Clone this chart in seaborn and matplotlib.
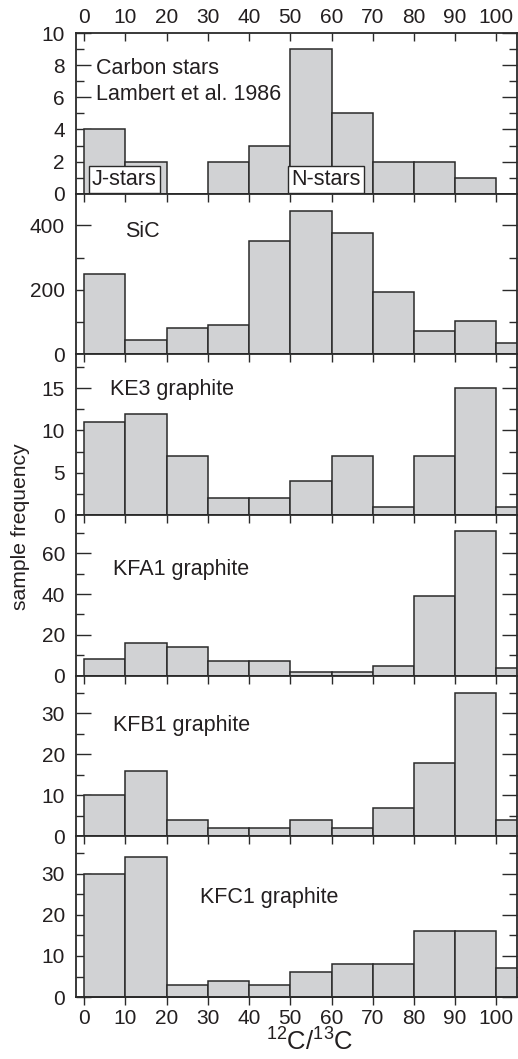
import numpy as np
import matplotlib
matplotlib.use("Agg")
import matplotlib.pyplot as plt
from matplotlib.ticker import MultipleLocator, FixedLocator
import seaborn as sns

# ---------------- data ----------------
bin_edges = [0, 10, 20, 30, 40, 50, 60, 70, 80, 90, 100, 110]
bin_centers = [5, 15, 25, 35, 45, 55, 65, 75, 85, 95, 105]

carbon_stars = [4, 2, 0, 2, 3, 9, 5, 2, 2, 1, 0]
sic = [250, 44, 82, 92, 350, 443, 375, 193, 72, 103, 35]
ke3 = [11, 12, 7, 2, 2, 4, 7, 1, 7, 15, 1]
kfa1 = [8, 16, 14, 7, 7, 2, 2, 5, 39, 71, 4]
kfb1 = [10, 16, 4, 2, 2, 4, 2, 7, 18, 35, 4]
kfc1 = [30, 34, 3, 4, 3, 6, 8, 8, 16, 16, 7]

panel_labels = ["Carbon stars\nLambert et al. 1986", "SiC", "KE3 graphite",
                "KFA1 graphite", "KFB1 graphite", "KFC1 graphite"]
x_ticks = [0, 10, 20, 30, 40, 50, 60, 70, 80, 90, 100]
y_major = [[0, 2, 4, 6, 8, 10], [0, 200, 400], [0, 5, 10, 15],
           [0, 20, 40, 60], [0, 10, 20, 30], [0, 10, 20, 30]]
y_minor = [[1, 3, 5, 7, 9], [100, 300], [2.5, 7.5, 12.5, 17.5],
           [10, 30, 50, 70], [5, 15, 25, 35], [5, 15, 25, 35]]
y_limits = [(0, 10), (0, 498), (0, 19), (0, 78.7), (0, 39.2), (0, 39.1)]

series = [carbon_stars, sic, ke3, kfa1, kfb1, kfc1]

# ---------------- style ----------------
sns.set_style("ticks")
plt.rcParams["font.family"] = ["Liberation Sans", "DejaVu Sans"]
plt.rcParams["mathtext.fontset"] = "custom"
plt.rcParams["mathtext.rm"] = "Liberation Sans"
plt.rcParams["mathtext.it"] = "Liberation Sans"

TXT = "#231f20"
FACE = "#d1d2d4"
EDGE = "#2a2a2a"
FS = 15

fig = plt.figure(figsize=(5.18, 10.59), dpi=100)
axes = fig.subplots(6, 1, sharex=True, gridspec_kw=dict(hspace=0))
fig.subplots_adjust(left=0.1467, right=0.998, top=0.9688, bottom=0.0585)

for i, ax in enumerate(axes):
    sns.histplot(x=bin_centers, weights=series[i], bins=bin_edges, ax=ax,
                 color=FACE, edgecolor=EDGE, linewidth=1.1, alpha=1.0)
    ax.set_xlim(-2, 105)
    ax.set_ylim(*y_limits[i])
    ax.set_ylabel("")
    ax.set_xlabel("")
    ax.yaxis.set_major_locator(FixedLocator(y_major[i]))
    ax.yaxis.set_minor_locator(FixedLocator(y_minor[i]))
    ax.xaxis.set_major_locator(FixedLocator(x_ticks))
    ax.tick_params(axis="y", which="major", direction="in", left=True, right=True,
                   length=11, width=1.0, color=EDGE, labelsize=FS, labelcolor=TXT, pad=8)
    ax.tick_params(axis="y", which="minor", direction="in", left=True, right=True,
                   length=5.5, width=1.0, color=EDGE)
    ax.tick_params(axis="x", which="major", direction="in", top=True, bottom=False,
                   length=5.5, width=1.0, color=EDGE, labelbottom=False,
                   labeltop=(i == 0), labelsize=FS, labelcolor=TXT, pad=4)
    for sp in ax.spines.values():
        sp.set_linewidth(1.3)
        sp.set_color(EDGE)
        sp.set_visible(True)

# bottom axis: ticks outward with labels
sec = axes[-1].secondary_xaxis("bottom")
sec.set_xticks(x_ticks)
sec.tick_params(axis="x", direction="out", length=5.5, width=1.0, color=EDGE,
                labelsize=FS, labelcolor=TXT, pad=3)
sec.spines["bottom"].set_linewidth(1.3)
sec.spines["bottom"].set_color(EDGE)

# panel labels
ax0 = axes[0]
ax0.text(2.9, 7.8, "Carbon stars", fontsize=15.5, color=TXT, va="center", ha="left")
ax0.text(2.9, 6.15, "Lambert et al. 1986", fontsize=15.5, color=TXT, va="center", ha="left")
box = dict(boxstyle="square,pad=0.15", facecolor="white", edgecolor=EDGE, linewidth=1.0)
ax0.text(1.9, 0.87, "J-stars", fontsize=15.5, color=TXT, va="center", ha="left", bbox=box)
ax0.text(50.2, 0.87, "N-stars", fontsize=15.5, color=TXT, va="center", ha="left", bbox=box)

label_pos = [None, (10, 380), (6.3, 14.9), (7.0, 52), (7.0, 27.1), (28.2, 24.3)]
for i in range(1, 6):
    x, y = label_pos[i]
    axes[i].text(x, y, panel_labels[i], fontsize=15.5, color=TXT, va="center", ha="left")

fig.text(0.039, 0.5024, "sample frequency", rotation=90, fontsize=15.2, color=TXT,
         va="center", ha="center")
fig.text(0.597, 0.0165, r"$^{12}$C/$^{13}$C", fontsize=18.5, color=TXT,
         va="center", ha="center")

fig.savefig("out.png", dpi=100)
